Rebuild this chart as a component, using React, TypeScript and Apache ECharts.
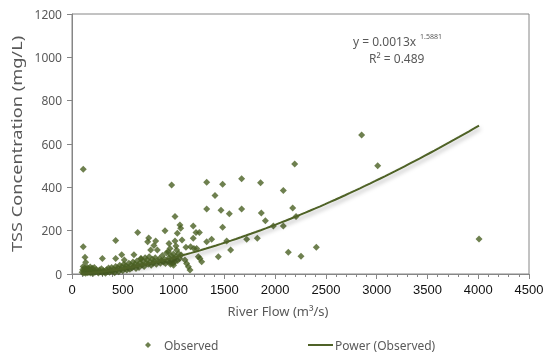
import React, { useEffect, useRef } from "react";
import * as echarts from "echarts";

// Observed river flow (m³/s) and TSS concentration (mg/L)
const observedFlow = [
  111, 111, 128, 135, 299, 430, 430, 489, 515, 610, 647, 679, 745, 755, 775, 807, 824, 840,
  916, 932, 948, 955, 965, 981, 998, 1014, 1014, 1024, 1031, 1037, 1063, 1070, 1083, 1112,
  1122, 1129, 1146, 1162, 1168, 1194, 1194, 1201, 1221, 1254, 1227, 1244, 1260, 1277, 1326,
  1326, 1326, 1375, 1408, 1441, 1467, 1483, 1483, 1523, 1549, 1562, 1670, 1670, 1720, 1825,
  1857, 1864, 1904, 1983, 2081, 2081, 2130, 2173, 2193, 2206, 2255, 2406, 2852, 3010, 4008,
  940, 955, 965, 975, 985, 995, 1005, 1015, 1025, 1040, 1050, 1060, 1075, 970, 1000,
  100, 105, 110, 115, 120, 125, 130, 135, 140, 145, 150, 155, 160, 165, 170, 175, 180, 185,
  190, 195, 200, 210, 215, 220, 230, 240, 250, 260, 270, 280, 290, 300, 310, 320, 330, 340,
  350, 360, 370, 380, 390, 400, 410, 420, 430, 440, 450, 460, 470, 480, 490, 500, 510, 520,
  530, 540, 550, 560, 570, 580, 590, 600, 610, 620, 630, 640, 650, 660, 670, 680, 690, 700,
  710, 720, 730, 740, 750, 760, 770, 780, 790, 800, 810, 820, 830, 850, 860, 870, 880, 890,
  900, 910, 920,
];
const observedTss = [
  483, 126, 77, 54, 71, 155, 71, 89, 65, 89, 192, 72, 149, 166, 111, 131, 152, 111,
  200, 98, 103, 141, 118, 411, 92, 265, 152, 129, 111, 188, 226, 211, 157, 65,
  123, 49, 34, 18, 126, 221, 165, 118, 191, 191, 118, 80, 72, 57, 423,
  300, 149, 160, 362, 80, 294, 414, 216, 152, 278, 111, 440, 300, 160, 165,
  421, 281, 246, 221, 385, 221, 100, 305, 508, 265, 82, 123, 641, 500, 162,
  60, 75, 55, 85, 65, 50, 70, 58, 80, 62, 95, 72, 88, 45, 40,
  8, 20, 35, 5, 15, 28, 10, 3, 22, 12, 30, 6, 18, 25, 8, 14, 32, 5,
  20, 10, 26, 4, 15, 30, 9, 20, 12, 5, 18, 10, 24, 6, 15, 10, 4, 20,
  12, 28, 8, 16, 30, 12, 22, 6, 35, 18, 28, 10, 40, 22, 32, 15, 45, 25,
  38, 18, 30, 50, 22, 40, 28, 55, 35, 45, 25, 60, 40, 30, 52, 70, 42, 60,
  35, 75, 50, 65, 45, 80, 55, 40, 68, 50, 60, 75, 45, 58, 70, 50, 62, 85,
  55, 68, 48,
];

// Fitted power trendline: y = a * x^b
const trendA = 0.0013;
const trendB = 1.5881;
const trendR2 = 0.489;

const xAxisMin = 0;
const xAxisMax = 4500;
const xAxisInterval = 500;
const yAxisMin = 0;
const yAxisMax = 1200;
const yAxisInterval = 200;

const markColor = "#4A6023";
const lineColor = "#4F6228";
const textGrey = "#595959";
const axisGrey = "#868686";

export default function App() {
  const ref = useRef<HTMLDivElement>(null);

  useEffect(() => {
    if (!ref.current) return;
    const chart = echarts.init(ref.current, undefined, { renderer: "svg" });

    const scatterData = observedFlow.map((f, i) => [f, observedTss[i]]);
    const minX = Math.min(...observedFlow);
    const maxX = Math.max(...observedFlow);
    const trendData: number[][] = [];
    const steps = 80;
    for (let i = 0; i <= steps; i++) {
      const x = minX + ((maxX - minX) * i) / steps;
      trendData.push([x, trendA * Math.pow(x, trendB)]);
    }

    chart.setOption({
      animation: false,
      grid: {
        left: 72,
        right: 21,
        top: 14,
        bottom: 84,
        show: true,
        borderColor: axisGrey,
        borderWidth: 1,
        backgroundColor: "transparent",
      },
      xAxis: {
        type: "value",
        min: xAxisMin,
        max: xAxisMax,
        interval: xAxisInterval,
        axisLine: { show: true, lineStyle: { color: axisGrey, width: 1 } },
        axisTick: { show: true, length: 5, lineStyle: { color: axisGrey } },
        minorTick: { show: true, splitNumber: 5, length: 3, lineStyle: { color: axisGrey } },
        splitLine: { show: false },
        minorSplitLine: { show: false },
        axisLabel: {
          color: "#111",
          fontFamily: "Liberation Sans",
          fontSize: 13,
          margin: 9,
          formatter: (v: number) => String(v),
        },
      },
      yAxis: {
        type: "value",
        min: yAxisMin,
        max: yAxisMax,
        interval: yAxisInterval,
        axisLine: { show: true, lineStyle: { color: axisGrey, width: 1 } },
        axisTick: { show: true, length: 5, lineStyle: { color: axisGrey } },
        splitLine: { show: false },
        axisLabel: {
          color: textGrey,
          fontFamily: "Noto Sans",
          fontSize: 12,
          margin: 10,
          formatter: (v: number) => String(v),
        },
      },
      legend: [
        {
          left: 140,
          top: 334,
          itemWidth: 6,
          itemHeight: 6,
          data: [{ name: "Observed", icon: "diamond" }],
          textStyle: {
            color: textGrey,
            fontFamily: "Noto Sans",
            fontSize: 12,
            padding: [0, 0, 0, 8],
          },
        },
        {
          left: 303,
          top: 334,
          itemWidth: 25,
          itemHeight: 2,
          data: [{ name: "Power (Observed)", icon: "rect" }],
          textStyle: {
            color: textGrey,
            fontFamily: "Noto Sans",
            fontSize: 12,
            padding: [0, 0, 0, -3],
          },
        },
      ],
      graphic: [
        {
          type: "text",
          x: 17,
          y: 144,
          rotation: Math.PI / 2,
          scaleX: 1.3,
          style: {
            text: "TSS Concentration (mg/L)",
            fill: textGrey,
            fontFamily: "Noto Sans",
            fontSize: 14,
            align: "center",
            verticalAlign: "middle",
          },
        },
        {
          type: "text",
          x: 278,
          y: 311,
          style: {
            text: "River Flow (m³/s)",
            fill: textGrey,
            fontFamily: "Noto Sans",
            fontSize: 13,
            align: "center",
            verticalAlign: "middle",
          },
        },
        {
          type: "text",
          x: 353,
          y: 41,
          style: {
            text: "y = " + trendA.toFixed(4) + "x",
            fill: textGrey,
            fontFamily: "Noto Sans",
            fontSize: 12,
            lineHeight: 12,
            align: "left",
            verticalAlign: "middle",
          },
        },
        {
          type: "text",
          x: 420,
          y: 36,
          style: {
            text: trendB.toFixed(4),
            fill: textGrey,
            fontFamily: "Noto Sans",
            fontSize: 7,
            lineHeight: 7,
            align: "left",
            verticalAlign: "middle",
          },
        },
        {
          type: "text",
          x: 369,
          y: 58,
          style: {
            text: "R² = " + trendR2.toFixed(3),
            fill: textGrey,
            fontFamily: "Noto Sans",
            fontSize: 12,
            lineHeight: 12,
            align: "left",
            verticalAlign: "middle",
          },
        },
      ],
      series: [
        {
          name: "Observed",
          type: "scatter",
          symbol: "diamond",
          symbolSize: 7,
          itemStyle: { color: markColor },
          data: scatterData,
        },
        {
          name: "Power (Observed)",
          type: "line",
          symbol: "none",
          smooth: false,
          lineStyle: {
            color: lineColor,
            width: 2,
            shadowColor: "rgba(0,0,0,0.3)",
            shadowBlur: 4,
            shadowOffsetX: 1,
            shadowOffsetY: 3,
          },
          itemStyle: { color: lineColor },
          data: trendData,
          z: 3,
        },
      ],
    });

    return () => chart.dispose();
  }, []);

  return (
    <div
      ref={ref}
      style={{ position: "fixed", left: 0, top: 0, width: 550, height: 358 }}
    />
  );
}
